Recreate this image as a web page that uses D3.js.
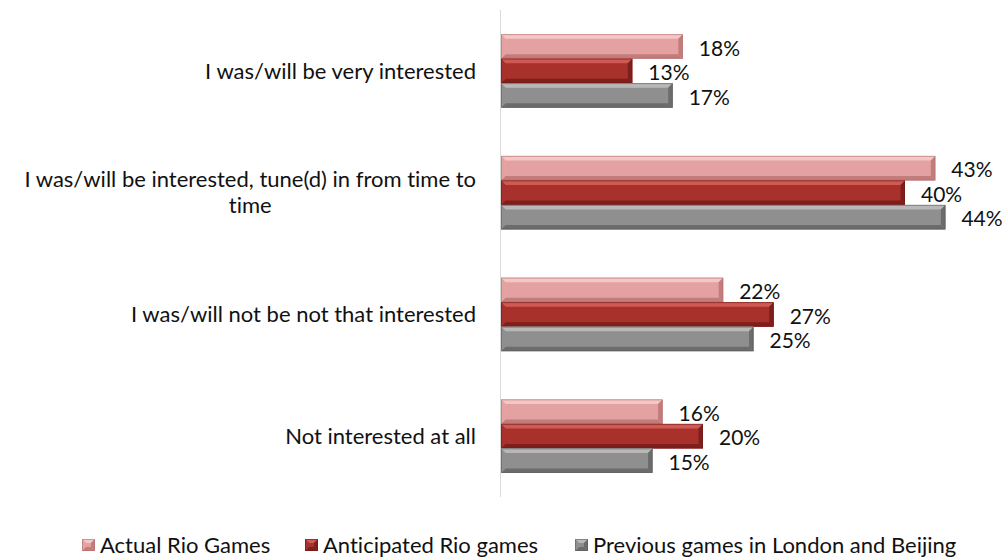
<!DOCTYPE html>
<html>
<head>
<meta charset="utf-8">
<script src="https://cdn.jsdelivr.net/npm/d3@7"></script>
<style>
  html, body { margin: 0; padding: 0; background: #fff; }
  svg { display: block; }
  text { font-family: Lato, "Open Sans", sans-serif; fill: #111; font-variant-ligatures: none; }
</style>
</head>
<body>
<svg id="chart" width="1002" height="560"></svg>
<script>
// Survey answers (top to bottom)
const categories = [
  "I was/will be very interested",
  "I was/will be interested, tune(d) in from time to time",
  "I was/will not be not that interested",
  "Not interested at all"
];
// Wrapped lines for the category labels
const categoryLines = [
  ["I was/will be very interested"],
  ["I was/will be interested, tune(d) in from time to", "time"],
  ["I was/will not be not that interested"],
  ["Not interested at all"]
];
const seriesNames = ["Actual Rio Games", "Anticipated Rio games", "Previous games in London and Beijing"];
const actualRio = [0.18, 0.43, 0.22, 0.16];
const anticipatedRio = [0.13, 0.40, 0.27, 0.20];
const previousGames = [0.17, 0.44, 0.25, 0.15];

const seriesValues = [actualRio, anticipatedRio, previousGames];
const palette = [
  { face: "#e3a2a1", light: "#f3c7c6", dark: "#c27c7b", edge: "#b77170" },
  { face: "#a8312c", light: "#cf5a54", dark: "#7e1f1b", edge: "#6f1a17" },
  { face: "#8f8f8f", light: "#b8b8b8", dark: "#6c6c6c", edge: "#5f5f5f" }
];

const svg = d3.select("#chart");
const plot = { left: 501, top: 10, bottom: 497 };
const fontSize = 22;

const x = d3.scaleLinear().domain([0, 0.5]).range([plot.left, plot.left + 505]);
const y = d3.scaleBand().domain(categories).range([plot.top, plot.bottom]).paddingInner(0).paddingOuter(0);
const barH = 24.5;
const inner = d3.scaleBand().domain(d3.range(3)).range([0, barH * 3]);

// vertical axis line
svg.append("line")
  .attr("x1", plot.left - 0.5).attr("x2", plot.left - 0.5)
  .attr("y1", plot.top).attr("y2", plot.bottom)
  .attr("stroke", "#d9d9d9").attr("stroke-width", 1);

// Beveled bar drawing
function bevelBar(g, x0, y0, w, h, c) {
  const b = Math.min(4.5, w / 3, h / 3);
  g.append("rect").attr("x", x0).attr("y", y0).attr("width", w).attr("height", h).attr("fill", c.face);
  g.append("polygon").attr("points", [[x0, y0], [x0 + w, y0], [x0 + w - b, y0 + b], [x0 + b, y0 + b]].join(" ")).attr("fill", c.light);
  g.append("polygon").attr("points", [[x0, y0 + h], [x0 + w, y0 + h], [x0 + w - b, y0 + h - b], [x0 + b, y0 + h - b]].join(" ")).attr("fill", c.dark);
  g.append("polygon").attr("points", [[x0, y0], [x0 + b, y0 + b], [x0 + b, y0 + h - b], [x0, y0 + h]].join(" ")).attr("fill", c.face).attr("opacity", 0.9);
  g.append("polygon").attr("points", [[x0 + w, y0], [x0 + w - b, y0 + b], [x0 + w - b, y0 + h - b], [x0 + w, y0 + h]].join(" ")).attr("fill", c.dark);
  g.append("rect").attr("x", x0 + 0.5).attr("y", y0 + 0.5).attr("width", w - 1).attr("height", h - 1)
    .attr("fill", "none").attr("stroke", c.edge).attr("stroke-width", 1).attr("opacity", 0.6);
}

const bars = svg.append("g");
categories.forEach((cat, i) => {
  const gy = y(cat) + (y.bandwidth() - barH * 3) / 2;
  seriesValues.forEach((vals, s) => {
    const v = vals[i];
    const by = gy + inner(s);
    bevelBar(bars, x(0), by, x(v) - x(0), barH, palette[s]);
    bars.append("text")
      .attr("x", x(v) + 16)
      .attr("y", by + barH / 2 + 2)
      .attr("dy", "0.35em")
      .attr("font-size", 21)
      .text(d3.format(".0%")(v));
  });
});

// Category labels: lines centered within a right-aligned block
const labels = svg.append("g");
categories.forEach((cat, i) => {
  const lines = categoryLines[i];
  const lh = 26;
  const cy = y(cat) + y.bandwidth() / 2;
  const g = labels.append("g");
  const texts = lines.map((ln, k) => g.append("text")
    .attr("y", cy + (k - (lines.length - 1) / 2) * lh)
    .attr("dy", "0.35em")
    .attr("font-size", fontSize)
    .attr("text-anchor", "middle")
    .text(ln));
  const wmax = d3.max(texts, t => t.node().getComputedTextLength());
  texts.forEach(t => t.attr("x", 476 - wmax / 2));
});

// Legend
const legendX = [82, 305, 575];
const legend = svg.append("g");
seriesNames.forEach((name, s) => {
  const c = palette[s];
  const lx = legendX[s], ly = 539;
  bevelBar(legend, lx, ly, 13, 12, c);
  legend.append("text").attr("x", lx + 18).attr("y", ly + 6).attr("dy", "0.35em")
    .attr("font-size", fontSize).text(name);
});
</script>
</body>
</html>
